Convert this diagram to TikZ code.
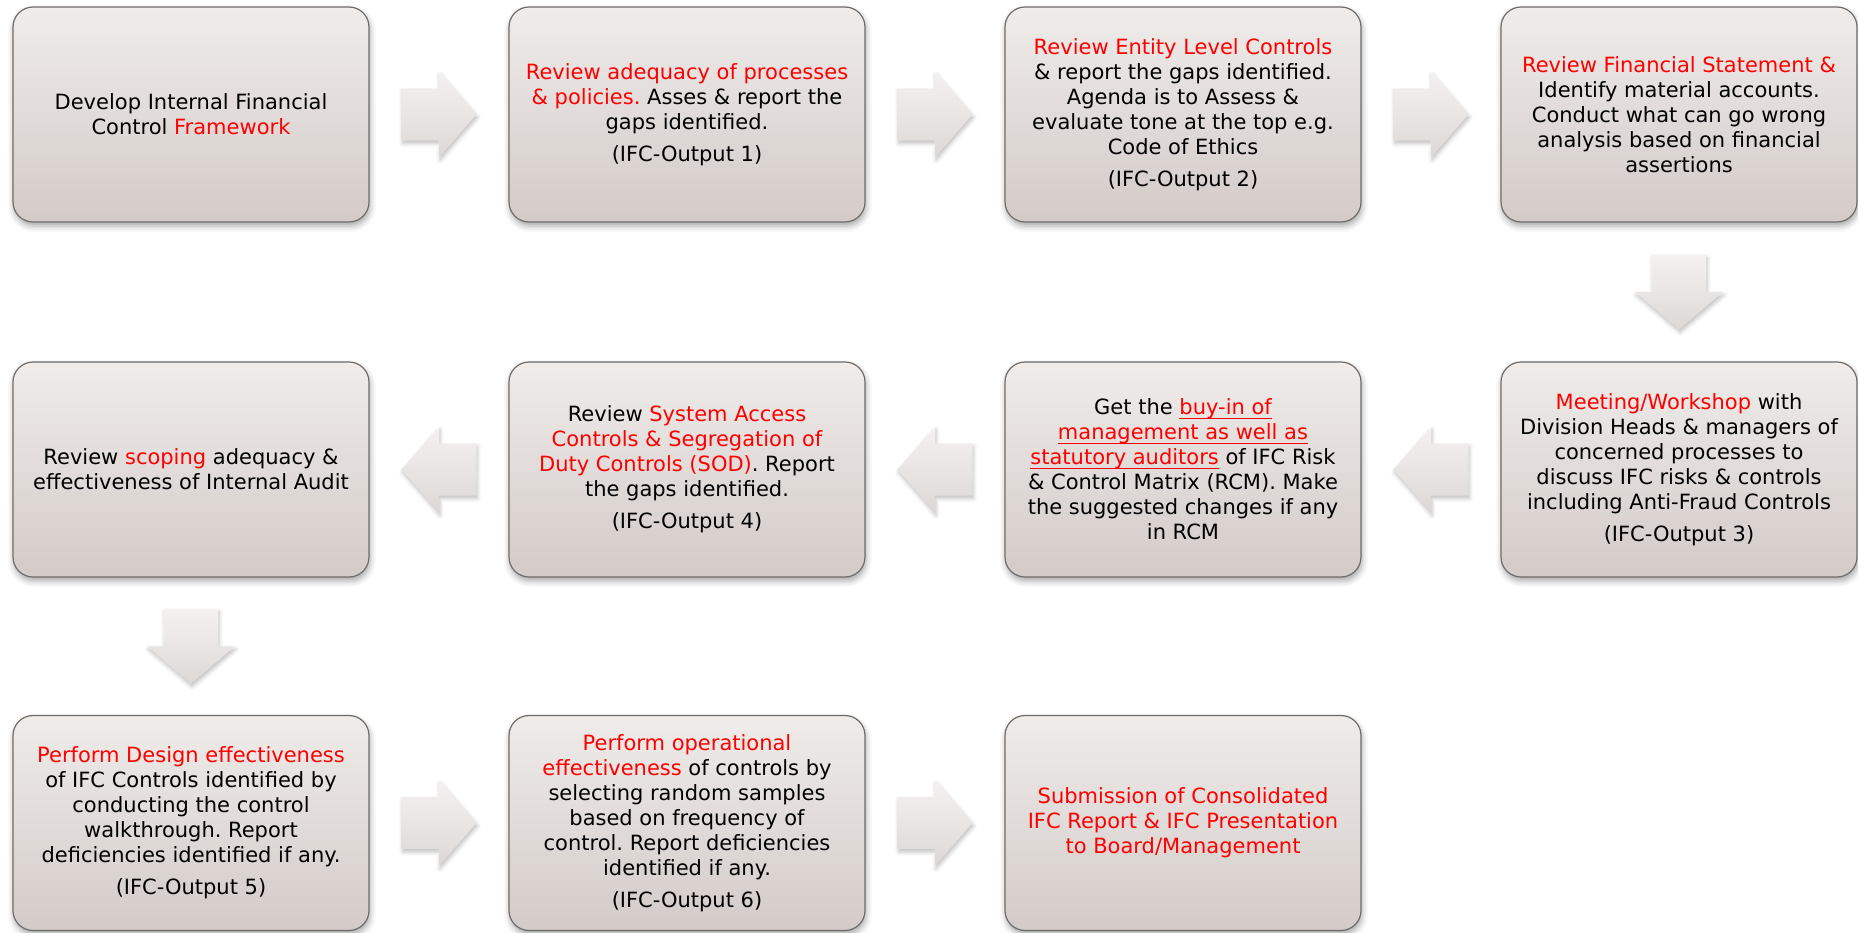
\documentclass[tikz,border=0pt]{standalone}
\usepackage{fontspec}
\setmainfont{DejaVu Sans}
\usetikzlibrary{calc,shadows.blur}
\frenchspacing
\definecolor{boxtop}{HTML}{EFECEA}
\definecolor{boxbot}{HTML}{D3CBC8}
\definecolor{boxline}{HTML}{6F6B69}
\definecolor{arrtop}{HTML}{F4F2F1}
\definecolor{arrbot}{HTML}{DCD8D6}
\definecolor{txtred}{HTML}{FF0000}
\newcommand\redtxt[1]{\textcolor{txtred}{#1}}
\newcommand\redul[1]{\textcolor{txtred}{\setbox0\hbox{#1}\rlap{\rule[-4pt]{\wd0}{1.2pt}}\box0}}
\newcommand\outgap{\\[7pt]}
\newcommand\arrR[1]{\path[blockarr] ([shift={(-37.5,-26)}]#1) -- ([shift={(0,-26)}]#1) -- ([shift={(0,-43)}]#1) -- ([shift={(37.5,0)}]#1) -- ([shift={(0,43)}]#1) -- ([shift={(0,26)}]#1) -- ([shift={(-37.5,26)}]#1) -- cycle;}
\newcommand\arrL[1]{\path[blockarr] ([shift={(37.5,-26)}]#1) -- ([shift={(0,-26)}]#1) -- ([shift={(0,-43)}]#1) -- ([shift={(-37.5,0)}]#1) -- ([shift={(0,43)}]#1) -- ([shift={(0,26)}]#1) -- ([shift={(37.5,26)}]#1) -- cycle;}
\newcommand\arrD[1]{\path[blockarr] ([shift={(-27,-37.5)}]#1) -- ([shift={(-27,0)}]#1) -- ([shift={(-44,0)}]#1) -- ([shift={(0,37.5)}]#1) -- ([shift={(44,0)}]#1) -- ([shift={(27,0)}]#1) -- ([shift={(27,-37.5)}]#1) -- cycle;}
\begin{document}
\begin{tikzpicture}[x=1pt,y=-1pt,
  boxst/.style={rectangle, rounded corners=20pt, minimum width=356pt, minimum height=215pt,
    draw=boxline, line width=1.2pt, top color=boxtop, bottom color=boxbot,
    align=center, font=\fontsize{21}{25}\selectfont, inner sep=4pt,
    blur shadow={shadow xshift=1pt, shadow yshift=-4pt, shadow blur radius=6pt, shadow opacity=35}},
  blockarr/.style={draw=none, top color=arrtop, bottom color=arrbot,
    blur shadow={shadow xshift=1pt, shadow yshift=-3pt, shadow blur radius=4pt, shadow opacity=25}}]
\useasboundingbox (0,0) rectangle (1858,932);
% row 1
\node[boxst] (b1) at (191,114.5) {Develop Internal Financial\\Control \redtxt{Framework}};
\node[boxst] (b2) at (687,114.5) {\redtxt{Review adequacy of processes}\\\redtxt{\& policies.} Asses \& report the\\gaps identified.\outgap(IFC-Output 1)};
\node[boxst] (b3) at (1183,114.5) {\redtxt{Review Entity Level Controls}\\\& report the gaps identified.\\Agenda is to Assess \&\\evaluate tone at the top e.g.\\Code of Ethics\outgap(IFC-Output 2)};
\node[boxst] (b4) at (1679,114.5) {\redtxt{Review Financial Statement \&}\\Identify material accounts.\\Conduct what can go wrong\\analysis based on financial\\assertions};
% row 2
\node[boxst] (b5) at (1679,469.5) {\redtxt{Meeting/Workshop} with\\Division Heads \& managers of\\concerned processes to\\discuss IFC risks \& controls\\including Anti-Fraud Controls\outgap(IFC-Output 3)};
\node[boxst] (b6) at (1183,469.5) {Get the \redul{buy-in of}\\\redul{management as well as}\\\redul{statutory auditors} of IFC Risk\\\& Control Matrix (RCM). Make\\the suggested changes if any\\in RCM};
\node[boxst] (b7) at (687,469.5) {Review \redtxt{System Access}\\\redtxt{Controls \& Segregation of}\\\redtxt{Duty Controls (SOD)}. Report\\the gaps identified.\outgap(IFC-Output 4)};
\node[boxst] (b8) at (191,469.5) {Review \redtxt{scoping} adequacy \&\\effectiveness of Internal Audit};
% row 3
\node[boxst] (b9) at (191,823) {\redtxt{Perform Design effectiveness}\\of IFC Controls identified by\\conducting the control\\walkthrough. Report\\deficiencies identified if any.\outgap(IFC-Output 5)};
\node[boxst] (b10) at (687,823) {\redtxt{Perform operational}\\\redtxt{effectiveness} of controls by\\selecting random samples\\based on frequency of\\control. Report deficiencies\\identified if any.\outgap(IFC-Output 6)};
\node[boxst] (b11) at (1183,823) {\redtxt{Submission of Consolidated}\\\redtxt{IFC Report \& IFC Presentation}\\\redtxt{to Board/Management}};
% arrow anchor points
\coordinate (m12) at ($(b1.east)!0.5!(b2.west)$);
\coordinate (m23) at ($(b2.east)!0.5!(b3.west)$);
\coordinate (m34) at ($(b3.east)!0.5!(b4.west)$);
\coordinate (m45) at ($(b4.south)!0.5!(b5.north)$);
\coordinate (m56) at ($(b5.west)!0.5!(b6.east)$);
\coordinate (m67) at ($(b6.west)!0.5!(b7.east)$);
\coordinate (m78) at ($(b7.west)!0.5!(b8.east)$);
\coordinate (m89) at ($(b8.south)!0.5!(b9.north)$);
\coordinate (m910) at ($(b9.east)!0.5!(b10.west)$);
\coordinate (m1011) at ($(b10.east)!0.5!(b11.west)$);
\arrR{m12}
\arrR{m23}
\arrR{m34}
\arrD{m45}
\arrL{m56}
\arrL{m67}
\arrL{m78}
\arrD{m89}
\arrR{m910}
\arrR{m1011}
\end{tikzpicture}
\end{document}
